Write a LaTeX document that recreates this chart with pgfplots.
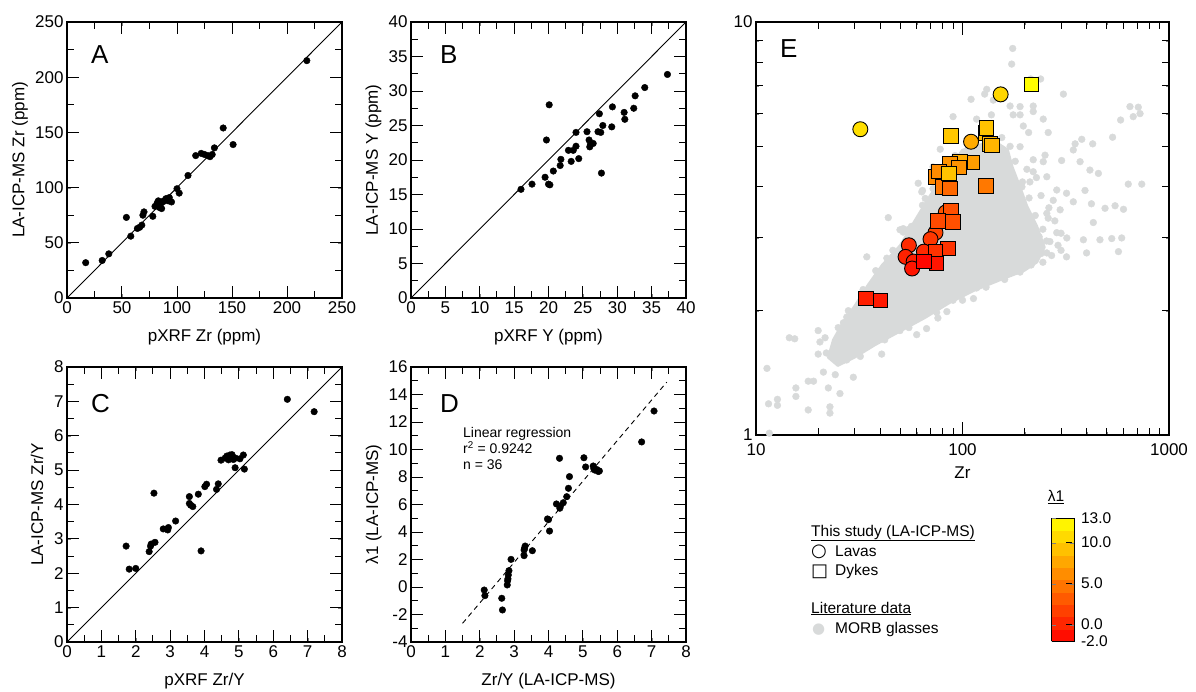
\documentclass[border=0pt]{standalone}
\usepackage{fontspec}
\setmainfont{Liberation Sans}
\newfontfamily\symfont{DejaVu Sans}
\usepackage{pgfplots}
\pgfplotsset{compat=1.18}
\usetikzlibrary{calc}

\definecolor{morb}{RGB}{216,218,218}

\newcommand{\lbl}{\fontsize{17}{20}\selectfont}
\newcommand{\annot}{\fontsize{14}{16}\selectfont}

\pgfplotsset{
  panel/.style={
    scale only axis,
    anchor=north west,
    axis line style={line width=1.1pt},
    tick align=inside,
    tick label style={font=\lbl},
    label style={font=\lbl},
    /pgf/number format/assume math mode=true,
  },
  dots/.style={only marks, mark=*, mark size=3.3pt,
    mark options={fill=black, draw=black}},
}
\tikzset{
  letter/.style={anchor=base west, inner sep=0pt,
    font=\fontsize{26}{30}\selectfont},
  tk/.style={black, line width=1pt},
}
% inward tick marks on both opposite sides of a frame, ends given in data units
% #1 positions, #2 lower edge, #3 inner end at lower edge, #4 upper edge, #5 inner end at upper edge
\newcommand{\xticksat}[5]{\pgfplotsinvokeforeach{#1}{%
  \draw[tk] (axis cs:##1,#2) -- (axis cs:##1,#3);
  \draw[tk] (axis cs:##1,#4) -- (axis cs:##1,#5);}}
\newcommand{\yticksat}[5]{\pgfplotsinvokeforeach{#1}{%
  \draw[tk] (axis cs:#2,##1) -- (axis cs:#3,##1);
  \draw[tk] (axis cs:#4,##1) -- (axis cs:#5,##1);}}

\begin{document}
\begin{tikzpicture}
\path[use as bounding box] (0,0) rectangle (1196pt,-691pt);

% ---------------- A: Zr ----------------
\begin{axis}[panel, at={(67pt,-22pt)}, width=275pt, height=276pt,
  xmin=0, xmax=250, ymin=0, ymax=250,
  xtick={0,50,...,250}, ytick={0,50,...,250},
  xlabel={pXRF Zr (ppm)}, ylabel={LA-ICP-MS Zr (ppm)},
  xlabel style={at={(axis description cs:0.5,-0.142)}, anchor=center},
  ylabel style={at={(axis description cs:-0.171,0.5)}, anchor=center}]
\xticksat{50,100,...,200}{0}{10.9}{250}{239.1}
\xticksat{25,75,...,225}{0}{6.4}{250}{243.6}
\yticksat{50,100,...,200}{0}{10.9}{250}{239.1}
\yticksat{25,75,...,225}{0}{6.4}{250}{243.6}
\addplot[black, line width=0.9pt] coordinates {(0,0) (250,250)};
\addplot[dots] coordinates {
(17,32) (32,34) (38,40) (54,73) (58,56) (64,63) (66,64) (68,66) (69,75)
(70,78) (78,74) (80,83) (82,86) (83,88) (84,82) (85,85) (86,81) (87,87)
(88,88) (90,90) (92,88) (93,91) (95,87) (100,99) (102,95) (110,111)
(117,129) (122,131) (125,130) (128,129) (130,128) (132,130) (134,136)
(142,154) (151,139) (218,215)};
\node[letter] at (axis description cs:0.087,0.851) {A};
\end{axis}

% ---------------- B: Y ----------------
\begin{axis}[panel, at={(411pt,-22pt)}, width=275pt, height=276pt,
  xmin=0, xmax=40, ymin=0, ymax=40,
  xtick={0,5,...,40}, ytick={0,5,...,40},
  xlabel={pXRF Y (ppm)}, ylabel={LA-ICP-MS Y (ppm)},
  xlabel style={at={(axis description cs:0.5,-0.142)}, anchor=center},
  ylabel style={at={(axis description cs:-0.136,0.5)}, anchor=center}]
\xticksat{5,10,...,35}{0}{1.75}{40}{38.25}
\xticksat{2.5,7.5,...,37.5}{0}{1.02}{40}{38.98}
\yticksat{5,10,...,35}{0}{1.75}{40}{38.25}
\yticksat{2.5,7.5,...,37.5}{0}{1.02}{40}{38.98}
\addplot[black, line width=0.9pt] coordinates {(0,0) (40,40)};
\addplot[dots] coordinates {
(16.0,15.75) (17.6,16.5) (19.5,17.5) (20.0,16.5) (20.2,16.4) (19.7,22.9)
(20.1,28.0) (20.7,18.4) (21.7,19.2) (21.8,20.1) (22.9,21.4) (23.3,19.8)
(23.6,21.4) (24.0,22.0) (24.0,24.0) (24.4,20.2) (25.6,24.1) (25.9,22.9)
(26.0,21.9) (26.1,22.3) (26.5,22.4) (27.2,24.1) (27.4,26.7) (27.6,24.0)
(27.7,18.1) (27.9,25.0) (29.2,24.8) (29.3,27.7) (31.0,26.9) (31.1,25.9)
(32.4,27.5) (32.6,29.3) (34.0,30.5) (37.3,32.4)};
\node[letter] at (axis description cs:0.105,0.851) {B};
\end{axis}

% ---------------- C: Zr/Y ----------------
\begin{axis}[panel, at={(67pt,-367pt)}, width=275pt, height=275pt,
  xmin=0, xmax=8, ymin=0, ymax=8,
  xtick={0,...,8}, ytick={0,...,8},
  xlabel={pXRF Zr/Y}, ylabel={LA-ICP-MS Zr/Y},
  xlabel style={at={(axis description cs:0.5,-0.142)}, anchor=center},
  ylabel style={at={(axis description cs:-0.109,0.5)}, anchor=center}]
\xticksat{1,...,7}{0}{0.349}{8}{7.651}
\xticksat{0.5,1.5,...,7.5}{0}{0.204}{8}{7.796}
\yticksat{1,...,7}{0}{0.349}{8}{7.651}
\yticksat{0.5,1.5,...,7.5}{0}{0.204}{8}{7.796}
\addplot[black, line width=0.9pt] coordinates {(0,0) (8,8)};
\addplot[dots] coordinates {
(1.72,2.79) (1.81,2.12) (2.00,2.14) (2.39,2.63) (2.43,2.79) (2.45,2.85)
(2.53,4.33) (2.56,2.90) (2.80,3.29) (2.93,3.26) (2.95,3.33) (3.16,3.52)
(3.56,4.23) (3.56,4.03) (3.60,3.98) (3.66,3.94) (3.82,4.30) (3.90,2.65)
(4.01,4.52) (4.06,4.59) (4.35,4.44) (4.40,4.60) (4.48,5.29) (4.60,5.35)
(4.65,5.41) (4.70,5.30) (4.74,5.44) (4.80,5.45) (4.84,5.31) (4.89,5.07)
(4.90,5.35) (5.03,5.33) (5.13,5.44) (5.16,5.03) (6.41,7.06) (7.19,6.70)};
\node[letter] at (axis description cs:0.087,0.836) {C};
\end{axis}

% ---------------- D: lambda1 vs Zr/Y ----------------
\begin{axis}[panel, at={(411pt,-367pt)}, width=275pt, height=275pt,
  xmin=0, xmax=8, ymin=-4, ymax=16,
  xtick={0,...,8}, ytick={-4,-2,...,16},
  xlabel={Zr/Y (LA-ICP-MS)}, ylabel={λ1 (LA-ICP-MS)},
  xlabel style={at={(axis description cs:0.5,-0.142)}, anchor=center},
  ylabel style={at={(axis description cs:-0.136,0.5)}, anchor=center}]
\xticksat{1,...,7}{-4}{-3.127}{16}{15.127}
\xticksat{0.5,1.5,...,7.5}{-4}{-3.491}{16}{15.491}
\yticksat{-2,0,...,14}{0}{0.349}{8}{7.651}
\yticksat{-3,-1,...,15}{0}{0.204}{8}{7.796}
\addplot[black, line width=0.9pt, dash pattern=on 5pt off 4pt]
  coordinates {(1.5,-2.64) (7.44,14.9)};
\addplot[dots] coordinates {
(2.13,-0.22) (2.15,-0.63) (2.64,-0.82) (2.66,-1.67) (2.80,0.15) (2.81,0.46)
(2.82,0.60) (2.83,0.87) (2.85,1.19) (2.91,2.01) (3.29,2.28) (3.29,2.69)
(3.30,2.80) (3.32,2.98) (3.53,2.64) (3.97,4.95) (4.00,4.90) (4.03,4.07)
(4.23,6.04) (4.32,9.36) (4.33,5.73) (4.35,5.90) (4.43,6.13) (4.53,6.57)
(4.58,7.18) (4.61,8.03) (5.03,9.40) (5.08,8.73) (5.30,8.80) (5.32,8.60)
(5.35,8.50) (5.40,8.55) (5.45,8.40) (5.48,8.44) (6.71,10.55) (7.07,12.8)};
\node[letter] at (axis description cs:0.105,0.836) {D};
\node[anchor=base west, inner sep=0pt, font=\annot] at (axis cs:1.51,10.9) {Linear regression};
\node[anchor=base west, inner sep=0pt, font=\annot] at (axis cs:1.51,9.71) {r\textsuperscript{2} = 0.9242};
\node[anchor=base west, inner sep=0pt, font=\annot] at (axis cs:1.51,8.51) {n = 36};
\end{axis}

% ---------------- E: Zr/Y vs Zr ----------------
\begin{axis}[panel, at={(756pt,-22pt)}, width=413pt, height=413pt,
  xmode=log, ymode=log, xmin=10, xmax=1000, ymin=1, ymax=10,
  xtick={10,100,1000}, xticklabels={10,100,1000},
  ytick={1,10}, yticklabels={1,10},
  xticklabel style={yshift=-5pt},
  xlabel={Zr},
  xlabel style={at={(axis description cs:0.5,-0.092)}, anchor=center},
  colormap={ry}{rgb255=(255,0,0) rgb255=(255,255,0)},
  point meta min=-2, point meta max=13,
  colorbar, colorbar sampled,
  colorbar style={
    at={($(parent axis.south west)+(287pt,-83pt)$)}, anchor=north west,
    scale only axis, width=23pt, height=123pt,
    samples=11,
    axis line style={line width=0.8pt},
    ytick={-2,0,5,10,13},
    yticklabels={-2.0,0.0,5.0,10.0,13.0},
    yticklabel style={font=\fontsize{15.5}{18}\selectfont, xshift=3pt},
  }]
% dense core of the MORB glass field
\addplot[fill=morb, draw=morb, line width=2pt, line join=round] coordinates {
(143.6,5.18) (99.5,4.90) (85.1,4.38) (69.7,3.81) (58.9,3.32) (49.8,2.88)
(40.7,2.58) (34.8,2.31) (30.1,2.06) (26.4,1.88) (23.6,1.70) (22.3,1.54)
(24.9,1.47) (30.1,1.54) (37.7,1.65) (49.8,1.78) (65.8,1.92) (87,2.09)
(115,2.24) (152,2.37) (200,2.50) (230,2.62) (250,2.85) (230,3.20)
(205,3.60) (190,4.00) (175,4.45) (165,4.95)};
% individual MORB glasses
\addplot[only marks, mark=*, mark size=3.4pt, mark options={fill=morb, draw=morb}]
  table {
175 8.63
173 7.91
214 7.28
239 7.28
308 6.69
131 6.87
128 6.69
110 6.50
141 6.47
170 6.26
190 6.24
220 6.26
246 5.82
220 6.07
176 5.96
190 5.96
138 5.96
117 5.82
90 5.90
197 5.60
209 5.40
260 5.40
647 6.24
710 6.22
671 5.90
724 6.00
583 5.79
533 5.26
427 5.07
378 5.20
351 5.07
344 4.90
302 4.62
371 4.59
414 4.38
455 4.30
635 4.05
738 4.05
392 3.91
490 3.54
548 3.59
602 3.52
421 3.63
344 3.67
319 3.85
286 3.92
275 3.70
297 3.51
256 3.44
260 3.35
430 3.27
385 2.97
463 2.97
528 2.99
590 3.00
286 3.09
265 2.94
78 4.92
64 3.91
43.7 3.36
51.6 3.10
60 3.08
72 4.46
251 4.76
190 4.99
220 4.64
246 4.59
220 4.34
212 4.10
194 3.99
256 4.22
270 2.72
290 2.88
300 3.08
280 3.30
262 3.55
240 3.80
228 4.20
205 4.40
300 2.80
320 3.00
245 2.62
235 3.02
135 5.30
110 5.05
92 4.75
80 4.20
72 3.95
64 3.60
55 3.15
46 2.80
38 2.50
33 2.25
28 2.00
25 1.82
160 2.38
130 2.28
100 2.12
75 1.98
55 1.82
42 1.70
190 2.48
215 2.58
240 2.75
255 2.95
245 3.15
225 3.40
210 3.75
195 4.10
180 4.60
170 5.00
155 5.25
11.6 1.01
11.3 1.45
11.5 1.19
12.7 1.22
12.7 1.18
14.5 1.72
15.4 1.71
15.6 1.30
15.6 1.24
17.9 1.15
17.9 1.35
19.0 1.35
20.0 1.57
21.2 1.42
21.6 1.72
22.4 1.30
22.8 1.17
22.8 1.13
24.2 1.40
25.5 1.26
26.5 1.87
27.5 1.52
29.6 1.38
30.7 1.78
24.6 1.53
27.5 1.70
34.4 1.64
37.0 1.70
32.0 1.55
39.8 1.83
29.6 1.73
40.6 1.57
49.8 1.79
60 1.75
67 1.81
76 1.92
84 1.99
90 2.12
94 2.20
117 2.27
119 2.37
131 2.44
136 2.51
146 2.56
173 2.68
176 2.78
256 2.76
569 2.78
21.9 1.58
20.4 1.68
20.0 1.79
34.4 2.70
43 2.68
49.8 3.14
61 4.07
63.5 3.88
66 3.74
51.6 3.16
56.6 3.20
54.6 3.08
39.8 1.90
28.5 1.90
27.5 1.93
113 2.14
100 2.20
141 2.42
152 2.60
190 2.65
319 2.70
399 2.76
};
% this study: lavas
\addplot[scatter, only marks, mark=*, mark size=7.5pt, point meta=explicit,
  scatter/use mapped color={draw=black, fill=mapped color},
  mark options={line width=0.9pt}]
  table[meta index=2] {
32 5.50 11.0
153 6.68 10.5
110 5.13 8.0
83 3.46 3.0
74 3.09 2.0
70 2.98 1.2
55 2.88 0.5
53 2.70 0.0
58 2.63 -0.3
57 2.53 -0.8
65 2.78 0.4
};
% this study: dykes
\addplot[scatter, only marks, mark=square*, mark size=7.2pt, point meta=explicit,
  scatter/use mapped color={draw=black, fill=mapped color},
  mark options={line width=0.9pt}]
  table[meta index=2] {
216 7.06 12.8
88 5.30 9.6
130 5.39 8.8
131 5.54 9.4
136 5.07 8.5
139 5.02 8.6
111 4.57 7.2
97 4.59 8.0
87 4.54 6.6
74 4.22 6.0
77 4.34 6.1
96 4.45 6.5
80 3.99 4.9
87 3.96 4.1
130 4.01 5.0
86 4.30 9.4
88 3.50 2.6
76 3.30 2.3
90 3.28 2.7
85 2.83 1.0
74 2.78 0.9
75 2.60 -0.8
65 2.63 -1.6
34 2.14 -0.2
40 2.12 -0.6
};
\xticksat{100}{1}{1.075}{10}{9.30}
\xticksat{20,30,...,90,200,300,...,900}{1}{1.040}{10}{9.617}
\yticksat{2,...,9}{10}{10.81}{1000}{925}
\node[letter] at (axis description cs:0.058,0.915) {E};
\node[rotate=90, anchor=center, font=\lbl] at (axis description cs:-0.085,0.5) {Zr/Y};
\end{axis}

% colour bar tick marks (right side, outward)
\foreach \v in {-2,0,5,10,13}
  \draw[black, line width=0.8pt] (1066pt,{-518pt-(13-\v)*8.2pt}) -- (1072pt,{-518pt-(13-\v)*8.2pt});

% legend
\begin{scope}[every node/.style={anchor=base west, inner sep=0pt,
    font=\fontsize{15.5}{18}\selectfont}]
\node at (811pt,-536pt) {\underline{This study (LA-ICP-MS)}};
\node at (811pt,-556.5pt) {{\symfont\fontsize{18}{18}\selectfont ○}};
\node at (835pt,-556pt) {Lavas};
\node at (811pt,-576pt) {{\symfont\fontsize{18}{18}\selectfont □}};
\node at (835pt,-575pt) {Dykes};
\node at (811pt,-613pt) {\underline{Literature data}};
\node at (812pt,-633pt) {{\symfont\fontsize{15}{15}\selectfont\color{morb}●}};
\node at (835pt,-633pt) {MORB glasses};
\node[anchor=center] at (1056pt,-497pt) {\underline{λ1}};
\end{scope}
\end{tikzpicture}
\end{document}
